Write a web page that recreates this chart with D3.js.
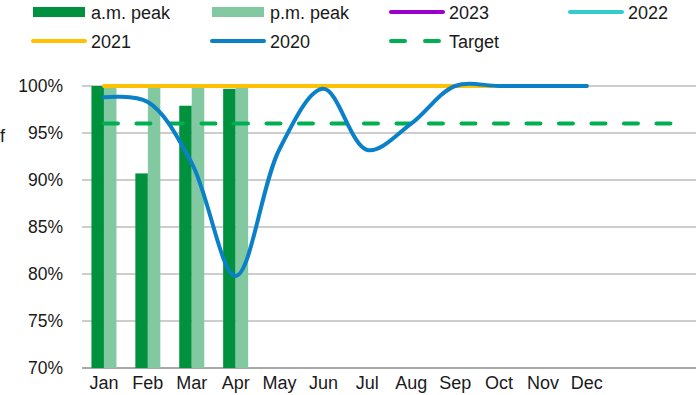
<!DOCTYPE html>
<html>
<head>
    <meta charset="utf-8">
    <title>Peak performance</title>
    <style>
        body { margin: 0; background: #ffffff; }
        svg { font-family: "Liberation Sans", Arial, sans-serif; }
    </style>
</head>
<body>
<div id="my_dataviz"></div>
<script src="https://d3js.org/d3.v7.min.js"></script>
<script>
    // data
    const months = ["Jan", "Feb", "Mar", "Apr", "May", "Jun", "Jul", "Aug", "Sep", "Oct", "Nov", "Dec", "", " "];
    const amPeak = [100, 90.7, 97.9, 99.7];
    const pmPeak = [100, 100, 100, 100];
    const y2023 = [];
    const y2022 = [];
    const y2021 = [100, 100, 100, 100, 100, 100, 100, 100, 100, 100, 100, 100];
    const y2020 = [98.8, 98.3, 91.8, 79.8, 93.3, 99.7, 93.2, 96.0, 100, 100, 100, 100];
    const target = [96, 96, 96, 96, 96, 96, 96, 96, 96, 96, 96, 96, 96, 96];
    const yTicks = [70, 75, 80, 85, 90, 95, 100];

    // plot area
    const W = 696, H = 395;
    const plot = {left: 82, right: 696.6, top: 86, bottom: 368};

    const svg = d3.select("#my_dataviz")
        .append("svg")
        .attr("width", W)
        .attr("height", H);

    // scales
    const x = d3.scaleBand()
        .domain(months)
        .range([plot.left, plot.right]);
    const y = d3.scaleLinear()
        .domain([70, 100])
        .range([plot.bottom, plot.top]);
    const barW = 12.5;

    // gridlines
    svg.append("g")
        .selectAll("line")
        .data(yTicks)
        .join("line")
        .attr("x1", plot.left)
        .attr("x2", W)
        .attr("y1", d => y(d))
        .attr("y2", d => y(d))
        .attr("stroke", d => d === 70 ? "#8c8c8c" : "#bdbdbd")
        .attr("stroke-width", 1.5);

    // y labels
    svg.append("g")
        .selectAll("text")
        .data(yTicks)
        .join("text")
        .attr("x", 63)
        .attr("y", d => y(d) + 6)
        .attr("text-anchor", "end")
        .attr("font-size", 17.5)
        .attr("fill", "#1a1a1a")
        .text(d => d + "%");

    // x labels
    svg.append("g")
        .selectAll("text")
        .data(months)
        .join("text")
        .attr("x", d => x(d) + x.bandwidth() / 2)
        .attr("y", 389)
        .attr("text-anchor", "middle")
        .attr("font-size", 18)
        .attr("fill", "#1a1a1a")
        .text(d => d);

    // clipped axis title, only its last letter is visible
    svg.append("text")
        .attr("x", 5)
        .attr("y", 142)
        .attr("text-anchor", "end")
        .attr("font-size", 18)
        .attr("fill", "#1a1a1a")
        .text("% of");

    // bars
    svg.append("g")
        .selectAll("rect")
        .data(amPeak)
        .join("rect")
        .attr("x", (d, i) => x(months[i]) + x.bandwidth() / 2 - barW)
        .attr("y", d => y(d))
        .attr("width", barW)
        .attr("height", d => plot.bottom - y(d))
        .attr("fill", "#00913f");
    svg.append("g")
        .selectAll("rect")
        .data(pmPeak)
        .join("rect")
        .attr("x", (d, i) => x(months[i]) + x.bandwidth() / 2)
        .attr("y", d => y(d))
        .attr("width", barW)
        .attr("height", d => plot.bottom - y(d))
        .attr("fill", "#82c9a1");

    const cx = i => x(months[i]) + x.bandwidth() / 2;
    const straight = d3.line().x((d, i) => cx(i)).y(d => y(d));
    const smooth = d3.line().x((d, i) => cx(i)).y(d => y(d)).curve(d3.curveCatmullRom.alpha(0.5));

    // target
    svg.append("path")
        .attr("d", straight(target))
        .attr("fill", "none")
        .attr("stroke", "#00b050")
        .attr("stroke-width", 4)
        .attr("stroke-linecap", "round")
        .attr("stroke-dasharray", "14,18.5");

    // year lines
    const series = [
        {values: y2023, color: "#9900cc"},
        {values: y2022, color: "#33cccc"},
        {values: y2021, color: "#ffc000"},
        {values: y2020, color: "#0a80c8"}
    ];
    series.forEach(s => {
        if (s.values.length < 2) return;
        svg.append("path")
            .attr("d", smooth(s.values))
            .attr("fill", "none")
            .attr("stroke", s.color)
            .attr("stroke-width", 4)
            .attr("stroke-linecap", "round");
    });

    // legend
    const legend = [
        {name: "a.m. peak", kind: "bar", color: "#00913f", lx: 33, ty: 12},
        {name: "p.m. peak", kind: "bar", color: "#82c9a1", lx: 212, ty: 12},
        {name: "2023", kind: "line", color: "#9900cc", lx: 391, ty: 12},
        {name: "2022", kind: "line", color: "#33cccc", lx: 570, ty: 12},
        {name: "2021", kind: "line", color: "#ffc000", lx: 33, ty: 41},
        {name: "2020", kind: "line", color: "#0a80c8", lx: 212, ty: 41},
        {name: "Target", kind: "dash", color: "#00b050", lx: 391, ty: 41}
    ];
    const lg = svg.append("g");
    legend.forEach(l => {
        if (l.kind === "bar") {
            lg.append("rect")
                .attr("x", l.lx).attr("y", l.ty - 5)
                .attr("width", 52).attr("height", 10)
                .attr("fill", l.color);
        } else {
            lg.append("line")
                .attr("x1", l.lx).attr("x2", l.lx + 52)
                .attr("y1", l.ty).attr("y2", l.ty)
                .attr("stroke", l.color)
                .attr("stroke-width", 4)
                .attr("stroke-linecap", "round")
                .attr("stroke-dasharray", l.kind === "dash" ? "14,20" : null);
        }
        lg.append("text")
            .attr("x", l.lx + 58)
            .attr("y", l.ty + 6.5)
            .attr("font-size", 18)
            .attr("fill", "#1a1a1a")
            .text(l.name);
    });
</script>
</body>
</html>
